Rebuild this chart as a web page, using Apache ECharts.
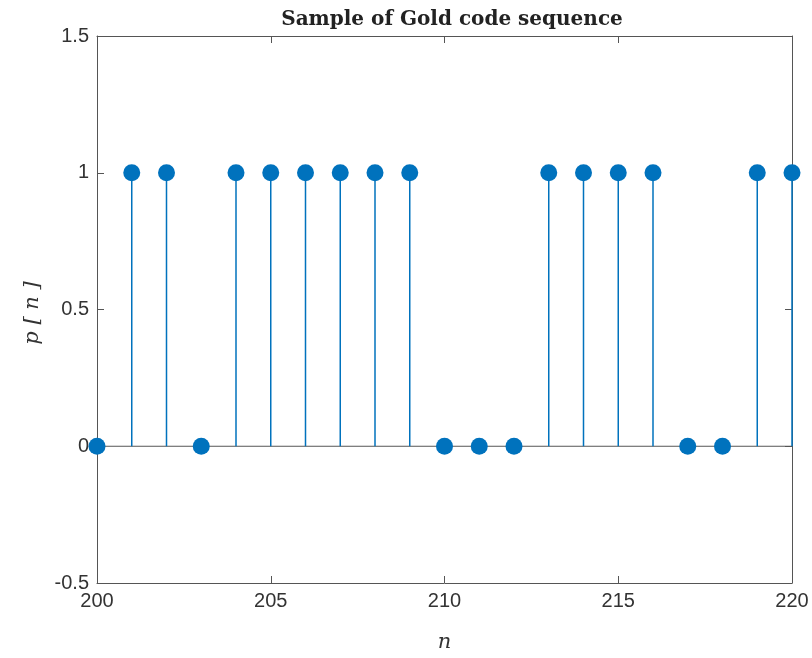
<!DOCTYPE html>
<html>
<head>
<meta charset="utf-8">
<script src="https://cdn.jsdelivr.net/npm/echarts@6/dist/echarts.min.js"></script>
<style>
  html, body { margin: 0; padding: 0; background: #fff; }
  #chart { width: 812px; height: 658px; }
</style>
</head>
<body>
<div id="chart"></div>
<script>
// Gold code samples p[n] for n = 200 … 220
const nValues = [200, 201, 202, 203, 204, 205, 206, 207, 208, 209, 210,
                 211, 212, 213, 214, 215, 216, 217, 218, 219, 220];
const pValues = [0, 1, 1, 0, 1, 1, 1, 1, 1, 1, 0,
                 0, 0, 1, 1, 1, 1, 0, 0, 1, 1];
const xTicks = [200, 205, 210, 215, 220];
const yTicks = [-0.5, 0, 0.5, 1, 1.5];

const stemColor = '#0072BD';
const axisColor = '#555555';
const labelColor = '#333333';

const points = nValues.map((n, i) => [n, pValues[i]]);

const chart = echarts.init(document.getElementById('chart'));

const baseAxis = {
  type: 'value',
  axisLine: { show: true, onZero: false, lineStyle: { color: axisColor, width: 1 } },
  axisTick: { show: true, inside: true, length: 7, lineStyle: { color: axisColor } },
  splitLine: { show: false }
};

chart.setOption({
  animation: false,
  title: {
    text: 'Sample of Gold code sequence',
    left: 447,
    top: 5,
    textAlign: 'center',
    textStyle: { fontFamily: 'DejaVu Serif', fontWeight: 'bold', fontSize: 20, color: '#222' }
  },
  grid: { left: 97, top: 36, width: 695, height: 547 },
  graphic: [
    {
      type: 'text',
      x: 33,
      y: 313,
      rotation: Math.PI / 2,
      style: {
        text: 'p [ n ]',
        fontFamily: 'DejaVu Serif',
        fontStyle: 'italic',
        fontSize: 21,
        fill: labelColor,
        align: 'center',
        verticalAlign: 'middle'
      }
    }
  ],
  xAxis: [
    Object.assign({}, baseAxis, {
      position: 'bottom',
      min: xTicks[0], max: xTicks[xTicks.length - 1], interval: 5,
      axisLabel: { color: labelColor, fontFamily: 'Liberation Sans', fontSize: 20, margin: 8 },
      name: 'n',
      nameLocation: 'middle',
      nameGap: 49,
      nameTextStyle: { fontFamily: 'DejaVu Serif', fontStyle: 'italic', fontSize: 21, color: labelColor }
    }),
    Object.assign({}, baseAxis, {
      position: 'top',
      min: xTicks[0], max: xTicks[xTicks.length - 1], interval: 5,
      axisLabel: { show: false }
    })
  ],
  yAxis: [
    Object.assign({}, baseAxis, {
      position: 'left',
      min: yTicks[0], max: yTicks[yTicks.length - 1], interval: 0.5,
      axisLabel: { color: labelColor, fontFamily: 'Liberation Sans', fontSize: 20, margin: 8 }
    }),
    Object.assign({}, baseAxis, {
      position: 'right',
      min: yTicks[0], max: yTicks[yTicks.length - 1], interval: 0.5,
      axisLabel: { show: false }
    })
  ],
  series: [
    {
      // baseline at p = 0
      type: 'custom',
      coordinateSystem: 'cartesian2d',
      data: [[nValues[0], 0, nValues[nValues.length - 1]]],
      renderItem: function (params, api) {
        const a = api.coord([api.value(0), api.value(1)]);
        const b = api.coord([api.value(2), api.value(1)]);
        return {
          type: 'line',
          shape: { x1: a[0], y1: a[1], x2: b[0], y2: b[1] },
          style: { stroke: axisColor, lineWidth: 1 }
        };
      },
      z: 1
    },
    {
      // stems
      type: 'custom',
      coordinateSystem: 'cartesian2d',
      data: points,
      renderItem: function (params, api) {
        const top = api.coord([api.value(0), api.value(1)]);
        const base = api.coord([api.value(0), 0]);
        return {
          type: 'line',
          shape: { x1: base[0], y1: base[1], x2: top[0], y2: top[1] },
          style: { stroke: stemColor, lineWidth: 1.5 }
        };
      },
      z: 2
    },
    {
      // stem heads
      type: 'scatter',
      data: points,
      symbol: 'circle',
      symbolSize: 17,
      itemStyle: { color: stemColor, opacity: 1 },
      z: 3
    }
  ]
});
</script>
</body>
</html>
